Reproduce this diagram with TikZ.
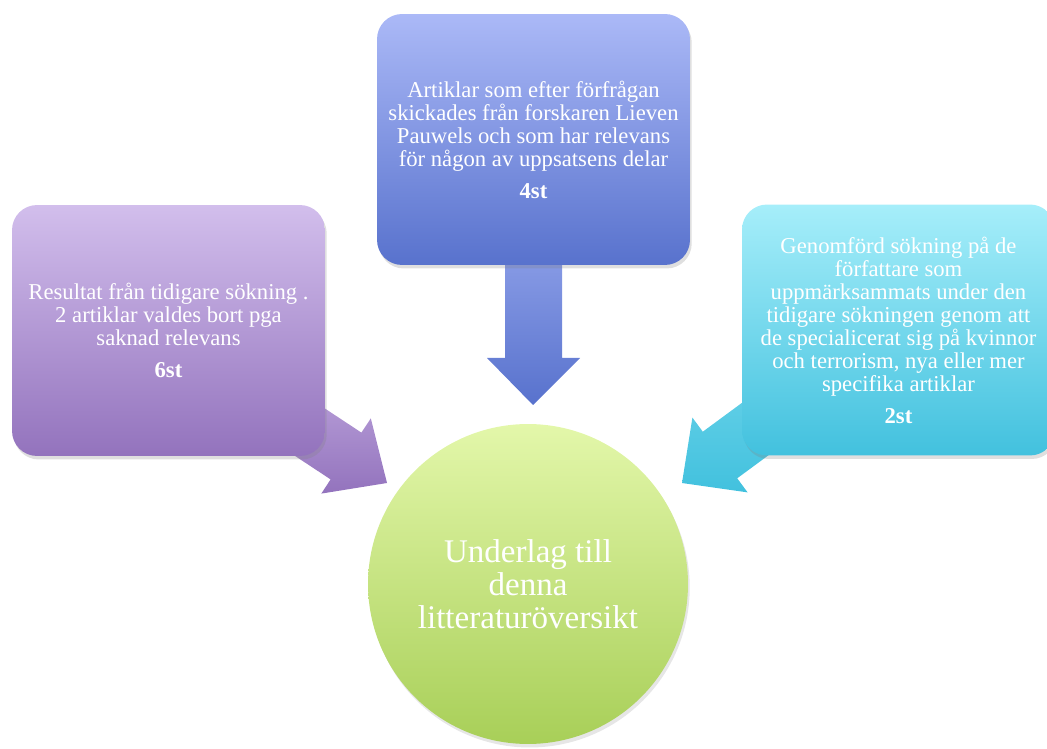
\documentclass[tikz,border=0pt]{standalone}
\usepackage{fontspec}
\setmainfont{Liberation Serif}
\usetikzlibrary{shadows}

\definecolor{lilaTop}{RGB}{210,190,236}
\definecolor{lilaBot}{RGB}{147,115,189}
\definecolor{blaTop}{RGB}{171,185,247}
\definecolor{blaBot}{RGB}{88,114,205}
\definecolor{turkTop}{RGB}{166,238,250}
\definecolor{turkBot}{RGB}{66,193,222}
\definecolor{gronTop}{RGB}{227,247,170}
\definecolor{gronBot}{RGB}{168,207,88}

\begin{document}
\begin{tikzpicture}[x=0.02cm,y=-0.02cm,
	panel/.style={rounded corners=0.5cm,minimum width=6.26cm,minimum height=5.02cm,
		align=center,text=white,font=\fontsize{12.9}{13.1}\selectfont,
		drop shadow={opacity=0.25,shadow xshift=1pt,shadow yshift=-2pt}},
	hub/.style={circle,minimum size=6.4cm,align=center,text=white,
		font=\fontsize{18.8}{18.9}\selectfont,
		drop shadow={opacity=0.2,shadow xshift=1pt,shadow yshift=-2pt}}]
	\useasboundingbox (0,0) rectangle (1047,749);
	\clip (0,0) rectangle (1047,749);
	
	% block arrows (under the boxes)
	\shade[top color=lilaTop!70!lilaBot,bottom color=lilaBot] (261.4,366.6) -- (361.4,432.6) -- (370.8,418.4) -- (387,483) -- (321.3,493.6) -- (330.6,479.4) -- (230.6,413.4) -- cycle;
	\shade[top color=blaTop!60!blaBot,bottom color=blaBot] (505,250) -- (562,250) -- (562,358) -- (580,358) -- (533,405) -- (487,358) -- (505,358) -- cycle;
	\shade[top color=turkTop!40!turkBot,bottom color=turkBot] (799.4,360.5) -- (702.8,431.7) -- (692.4,417.6) -- (682,483) -- (747.6,492.4) -- (737.2,478.3) -- (833.8,407.1) -- cycle;
	
	% boxes
	\node[panel,top color=lilaTop,bottom color=lilaBot] (tidigare) at (168.5,330.5) {Resultat från tidigare sökning .\\2 artiklar valdes bort pga\\saknad relevans\\[5pt]\textbf{6st}};
	
	\node[panel,top color=blaTop,bottom color=blaBot] (lieven) at (533.5,139.5) {Artiklar som efter förfrågan\\skickades från forskaren Lieven\\Pauwels och som har relevans\\för någon av uppsatsens delar\\[5pt]\textbf{4st}};
	
	\node[panel,top color=turkTop,bottom color=turkBot] (forfattare) at (898.5,330) {Genomförd sökning på de\\författare som\\uppmärksammats under den\\tidigare sökningen genom att\\de specialicerat sig på kvinnor\\och terrorism, nya eller mer\\specifika artiklar\\[5pt]\textbf{2st}};
	
	% centre
	\node[hub,top color=gronTop,bottom color=gronBot] (underlag) at (528,584) {Underlag till\\denna\\litteraturöversikt};
\end{tikzpicture}
\end{document}
